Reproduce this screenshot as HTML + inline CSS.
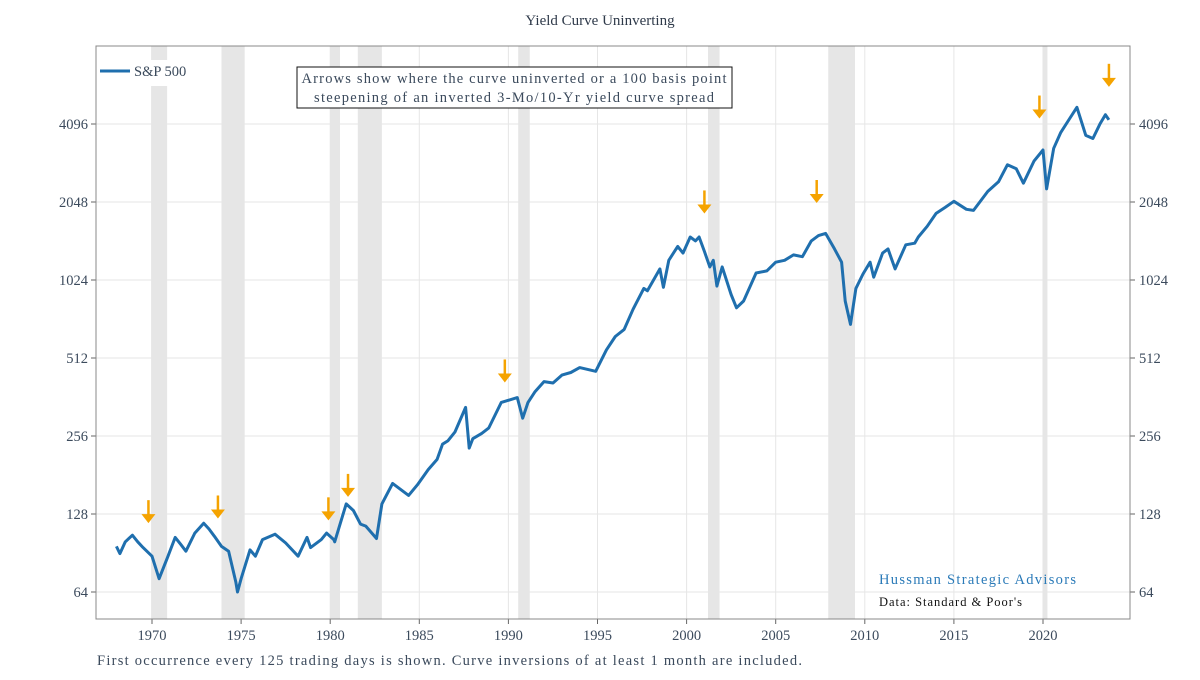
<!DOCTYPE html>
<html><head><meta charset="utf-8"><style>
body{margin:0;background:#fff;}
svg text{font-family:"Liberation Serif",serif;}
</style></head><body>
<svg width="1200" height="675" viewBox="0 0 1200 675" xmlns="http://www.w3.org/2000/svg">
<text x="600" y="25" text-anchor="middle" font-size="15" fill="#2f3a4a">Yield Curve Uninverting</text>
<g id="grid"></g>
<g id="rec"></g>
<g id="axes"></g>
<path id="line" fill="none" stroke="#1f6fae" stroke-width="3" stroke-linejoin="round"/>
<g id="arrows"></g>
<rect x="96" y="46" width="1034" height="573" fill="none" stroke="#888" stroke-width="1"/>
<g>
<rect x="98" y="60" width="72" height="26" fill="#fff"/>
<line x1="100" y1="71" x2="130" y2="71" stroke="#1f6fae" stroke-width="3"/>
<text x="134" y="76" font-size="14.5" fill="#3b4a5c">S&amp;P 500</text>
</g>
<g>
<rect x="297" y="67" width="435" height="41" fill="#fff" stroke="#111" stroke-width="1"/>
<text x="514" y="83" text-anchor="middle" font-size="14.5" fill="#3b4a5c" textLength="425">Arrows show where the curve uninverted or a 100 basis point</text>
<text x="514" y="102" text-anchor="middle" font-size="14.5" fill="#3b4a5c" textLength="400">steepening of an inverted 3-Mo/10-Yr yield curve spread</text>
</g>
<text x="879" y="584" font-size="14.5" fill="#2a7ab8" textLength="197">Hussman Strategic Advisors</text>
<text x="879" y="606" font-size="12.5" fill="#111" textLength="143">Data: Standard &amp; Poor's</text>
<text x="97" y="665" font-size="14.5" fill="#3b4a5c" textLength="705">First occurrence every 125 trading days is shown. Curve inversions of at least 1 month are included.</text>
</svg>
<script>
const yearTicks=[1970,1975,1980,1985,1990,1995,2000,2005,2010,2015,2020];
const yTicks=[64,128,256,512,1024,2048,4096];
const recessions=[[1969.95,1970.85],[1973.9,1975.2],[1980.0,1980.55],[1981.55,1982.9],[1990.55,1991.2],[2001.2,2001.85],[2007.95,2009.45],[2020.0,2020.25]];
const arrowYears=[1969.8,1973.7,1979.9,1981.0,1989.8,2001.0,2007.3,2019.8,2023.7];
const arrowLevels=[118,123,121,149,412,1850,2030,4300,5700];
const years=[1968.0,1968.2,1968.5,1968.9,1969.2,1969.5,1970.0,1970.4,1970.9,1971.3,1971.6,1971.9,1972.4,1972.9,1973.2,1973.5,1973.9,1974.3,1974.7,1974.8,1975.0,1975.5,1975.8,1976.2,1976.9,1977.5,1978.2,1978.7,1978.9,1979.5,1979.8,1980.2,1980.25,1980.9,1981.3,1981.7,1982.0,1982.6,1982.9,1983.5,1984.4,1984.9,1985.5,1986.0,1986.3,1986.6,1987.0,1987.6,1987.8,1988.0,1988.5,1988.9,1989.6,1989.9,1990.5,1990.8,1991.1,1991.5,1992.0,1992.5,1993.0,1993.5,1994.0,1994.9,1995.5,1996.0,1996.5,1997.0,1997.6,1997.8,1998.5,1998.7,1999.0,1999.5,1999.8,2000.2,2000.5,2000.7,2001.0,2001.3,2001.5,2001.7,2002.0,2002.5,2002.8,2003.2,2003.6,2003.9,2004.5,2005.0,2005.5,2006.0,2006.5,2007.0,2007.4,2007.8,2008.3,2008.7,2008.9,2009.2,2009.5,2009.9,2010.3,2010.5,2011.0,2011.3,2011.7,2012.3,2012.8,2013.0,2013.5,2014.0,2014.5,2015.0,2015.7,2016.1,2016.9,2017.5,2018.0,2018.5,2018.9,2019.5,2020.0,2020.2,2020.6,2021.0,2021.5,2021.9,2022.4,2022.8,2023.2,2023.5,2023.7];
const prices=[96,90,100,106,100,95,88,72,88,104,98,92,108,118,112,105,96,92,70,64,72,93,88,102,107,99,88,104,95,102,108,102,100,140,132,117,115,103,140,168,151,166,190,208,238,245,265,330,230,250,262,275,345,350,360,300,345,380,415,410,440,450,470,455,550,620,660,790,950,930,1130,960,1220,1380,1300,1500,1450,1500,1320,1150,1220,970,1150,900,800,850,980,1090,1110,1200,1220,1280,1260,1450,1520,1550,1350,1200,850,690,950,1080,1200,1050,1300,1350,1130,1400,1420,1500,1650,1850,1950,2060,1920,1900,2250,2450,2850,2750,2420,2950,3250,2300,3300,3800,4300,4750,3700,3600,4100,4450,4250];
const NS="http://www.w3.org/2000/svg";
function X(y){return 152+(y-1970)*17.82;}
function Y(v){return 124+(12-Math.log2(v))*78;}
function mk(t,a,p){const e=document.createElementNS(NS,t);for(const k in a)e.setAttribute(k,a[k]);p.appendChild(e);return e;}
const grid=document.getElementById('grid'),rec=document.getElementById('rec'),axes=document.getElementById('axes'),arr=document.getElementById('arrows');
yearTicks.forEach(t=>{const x=X(t);
const g=mk('line',{x1:x,x2:x,y1:46,y2:619,stroke:'#e6e6e6'},grid);


mk('line',{x1:x,x2:x,y1:619,y2:624,stroke:'#666'},axes);
const tx=mk('text',{x:x,y:640,'text-anchor':'middle','font-size':14.5,fill:'#3b4a5c'},axes);tx.textContent=t;

});
yTicks.forEach(t=>{const y=Y(t);
const g=mk('line',{x1:96,x2:1130,y1:y,y2:y,stroke:'#e6e6e6'},grid);


mk('line',{x1:91,x2:96,y1:y,y2:y,stroke:'#666'},axes);
mk('line',{x1:1130,x2:1135,y1:y,y2:y,stroke:'#666'},axes);
const a=mk('text',{x:88,y:y+5,'text-anchor':'end','font-size':14.5,fill:'#3b4a5c'},axes);a.textContent=t;


const b=mk('text',{x:1139,y:y+5,'font-size':14.5,fill:'#3b4a5c'},axes);b.textContent=t;

});
recessions.forEach(r=>{const x0=X(r[0]),x1=X(r[1]);
const e=mk('rect',{x:x0,y:46,width:x1-x0,height:573,fill:'#e6e6e6'},rec);

});
let d='';years.forEach((y,i)=>{d+=(i?'L':'M')+X(y).toFixed(1)+' '+Y(prices[i]).toFixed(1);});
document.getElementById('line').setAttribute('d',d);
arrowYears.forEach((yr,i)=>{const x=X(yr),tip=Y(arrowLevels[i]);
const g=mk('g',{},arr);


mk('line',{x1:x,x2:x,y1:tip-23,y2:tip-8,stroke:'#f5a300','stroke-width':2.5},g);
mk('path',{d:`M${x-7} ${tip-9}L${x} ${tip}L${x+7} ${tip-9}Z`,fill:'#f5a300'},g);});
</script>
</body></html>
